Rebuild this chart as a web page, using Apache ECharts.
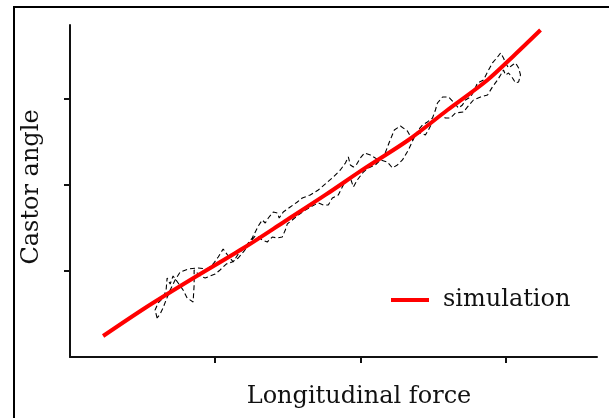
<!DOCTYPE html>
<html>
<head>
<meta charset="utf-8">
<script src="https://cdn.jsdelivr.net/npm/echarts@6/dist/echarts.min.js"></script>
<style>
html,body{margin:0;padding:0;background:#fff;}
#chart{width:609px;height:418px;}
</style>
</head>
<body>
<div id="chart"></div>
<script>
// Axis ticks (no labels shown in the reference)
const xTicks = [10, 20, 30];
const yTicks = [10, 20, 30];

// Simulation (red solid line)
const simX = [2.28, 5.17, 8.28, 12.07, 14.83, 17.59, 20.34, 23.31, 26.0, 28.76, 30.69, 32.41];
const simY = [2.44, 5.70, 8.95, 12.79, 15.81, 18.84, 21.98, 25.23, 28.72, 32.21, 35.23, 38.02];

// Measurement (black dashed trace, loading then unloading)
const measX = [6.0, 5.86, 6.07, 6.41, 6.62, 6.69, 6.90, 7.10, 7.45, 7.79, 8.07, 8.48, 8.55, 8.55, 8.97, 9.31, 9.66, 10.0, 10.34, 10.76,
  11.17, 11.59, 12.0, 12.41, 12.76, 12.97, 13.24, 13.59, 13.93, 14.28, 14.62, 14.83, 14.97, 15.31, 15.72, 16.21, 16.69, 17.10, 17.45, 17.79,
  18.07, 18.48, 18.97, 19.31, 19.52, 19.79, 20.21, 20.55, 21.03, 21.38, 21.86, 22.21, 22.55, 22.90, 23.31, 23.79, 24.14, 24.48, 24.69, 24.97,
  25.52, 25.86, 26.21, 26.55, 27.10, 27.38, 27.79, 28.28, 28.76, 29.10, 29.45, 29.66, 29.86, 30.0, 30.21, 30.48, 30.69, 30.90, 31.03,
  30.90, 30.69, 30.48, 30.21, 30.0, 29.86, 29.66, 29.45, 29.10, 28.76, 28.48, 28.07, 27.79, 27.59, 27.24, 27.03, 26.76, 26.41, 26.07, 25.66,
  25.31, 25.17, 24.97, 24.62, 24.28, 24.0, 23.59, 23.24, 22.76, 22.34, 22.0, 21.66, 21.24, 20.69, 20.28, 20.0, 19.72, 19.52, 19.31, 19.17,
  18.97, 18.62, 18.14, 17.66, 17.10, 16.55, 16.0, 15.66, 15.17, 14.69, 14.41, 14.28, 14.0, 13.66, 13.45, 13.24, 12.97, 12.55, 12.07, 11.59,
  11.24, 10.90, 10.55, 10.21, 9.86, 9.45, 8.83, 8.14, 7.59, 7.24, 6.90, 6.62, 6.41, 6.21, 6.0];
const measY = [4.53, 5.47, 6.28, 6.86, 7.79, 9.19, 8.49, 9.42, 8.60, 7.79, 6.86, 6.40, 8.37, 10.12, 9.42, 9.19, 9.42, 9.65, 10.12, 10.81,
  11.05, 11.51, 12.33, 13.37, 14.07, 13.95, 13.60, 13.37, 13.95, 13.84, 13.95, 14.77, 15.47, 15.93, 16.51, 17.09, 17.56, 17.91, 17.67, 17.67,
  18.49, 18.84, 20.47, 20.81, 19.77, 20.58, 21.51, 21.98, 22.33, 22.91, 22.67, 21.98, 22.33, 22.91, 24.07, 25.81, 26.05, 25.81, 26.40, 27.33,
  28.14, 27.79, 27.79, 28.37, 28.49, 29.07, 29.88, 30.23, 30.47, 31.40, 32.21, 32.79, 33.37, 32.79, 33.02, 32.44, 31.86, 31.98, 32.79,
  33.60, 34.19, 33.95, 33.60, 34.19, 34.77, 35.35, 34.88, 34.19, 33.14, 32.21, 31.86, 30.81, 30.23, 29.88, 29.30, 28.95, 29.65, 30.23, 30.23,
  29.53, 28.72, 27.79, 27.33, 26.98, 26.40, 25.23, 26.28, 26.86, 26.40, 25.0, 23.49, 22.91, 23.49, 23.72, 23.14, 22.33, 22.09, 22.33, 23.26,
  22.56, 21.74, 20.93, 20.23, 19.42, 18.84, 18.49, 18.02, 17.44, 16.86, 16.16, 16.74, 16.86, 16.16, 15.58, 15.93, 15.23, 13.84, 12.79, 11.98,
  11.05, 11.74, 12.56, 11.63, 10.81, 10.23, 10.35, 10.23, 9.88, 8.95, 7.79, 6.63, 5.70, 5.0, 4.53];

const xName = 'Longitudinal force';
const yName = 'Castor angle';
const legendName = 'simulation';

const simData = simX.map((x, i) => [x, simY[i]]);
const measData = measX.map((x, i) => [x, measY[i]]);

const FONT = 'DejaVu Serif';
const chart = echarts.init(document.getElementById('chart'), null, {renderer: 'canvas'});
chart.setOption({
  animation: false,
  backgroundColor: '#fff',
  grid: {left: 70, right: 12, top: 25, bottom: 61},
  graphic: [{
    type: 'polyline',
    shape: {points: [[14, 418], [14, 7], [609, 7]]},
    style: {stroke: '#000', lineWidth: 2, fill: null}
  }],
  legend: {
    data: [legendName],
    left: 386, top: 283,
    icon: 'rect', itemWidth: 38, itemHeight: 4,
    textStyle: {fontFamily: FONT, fontSize: 24, color: '#111', padding: [0, 0, 0, 9]}
  },
  xAxis: {
    type: 'value', min: 0, max: 36.3, interval: 10,
    name: xName, nameLocation: 'middle', nameGap: 28,
    nameTextStyle: {fontFamily: FONT, fontSize: 24, color: '#111', padding: [0, 0, 0, 51]},
    axisLine: {show: true, lineStyle: {color: '#111', width: 2}},
    axisTick: {show: true, length: 6, inside: false, customValues: xTicks, lineStyle: {color: '#111', width: 2}},
    axisLabel: {show: false},
    splitLine: {show: false}
  },
  yAxis: {
    type: 'value', min: 0, max: 38.6, interval: 10,
    name: yName, nameLocation: 'middle', nameGap: 26,
    nameTextStyle: {fontFamily: FONT, fontSize: 24, color: '#111', padding: [0, 0, 0, 8]},
    axisLine: {show: true, lineStyle: {color: '#111', width: 2}},
    axisTick: {show: true, length: 6, inside: false, customValues: yTicks, lineStyle: {color: '#111', width: 2}},
    axisLabel: {show: false},
    splitLine: {show: false}
  },
  series: [
    {
      name: 'measurement', type: 'line', data: measData, symbol: 'none',
      lineStyle: {color: '#000', width: 1.1, type: [5, 3]}, z: 2
    },
    {
      name: legendName, type: 'line', data: simData, symbol: 'none', smooth: 0.3,
      lineStyle: {color: '#ff0000', width: 4}, itemStyle: {color: '#ff0000'}, z: 3
    }
  ]
});
</script>
</body>
</html>
